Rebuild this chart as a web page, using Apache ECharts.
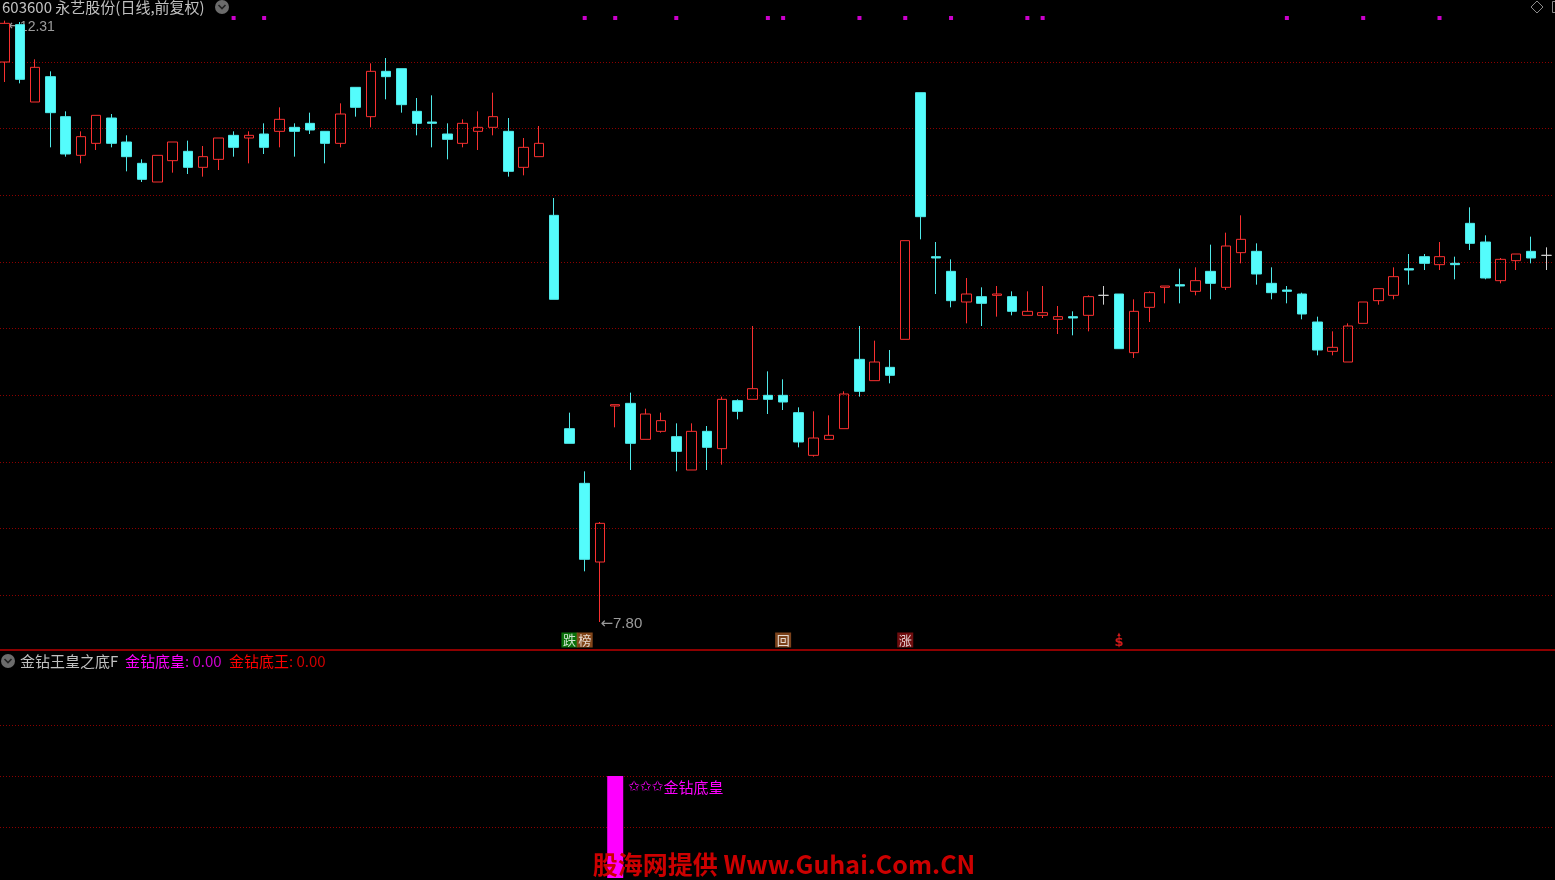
<!DOCTYPE html>
<html><head><meta charset="utf-8">
<script src="https://cdn.jsdelivr.net/npm/echarts@6/dist/echarts.min.js"></script>
<style>html,body{margin:0;padding:0;background:#000;overflow:hidden}#c{width:1555px;height:880px}</style>
</head><body><div id="c"></div>
<script>
// ---- data ----
const opens = [12.00,12.28,11.70,11.89,11.59,11.30,11.39,11.58,11.40,11.24,
11.10,11.26,11.33,11.21,11.27,11.45,11.43,11.46,11.48,11.51,
11.54,11.48,11.39,11.81,11.59,11.93,11.95,11.63,11.55,11.46,
11.39,11.48,11.51,11.48,11.21,11.29,10.85,9.25,8.84,8.25,
9.42,9.44,9.17,9.23,9.19,8.94,9.23,9.10,9.46,9.47,
9.50,9.50,9.37,9.05,9.17,9.25,9.77,9.61,9.71,9.92,
11.77,10.54,10.43,10.20,10.24,10.25,10.24,10.10,10.10,10.07,
10.09,10.10,10.25,10.26,9.82,10.16,10.31,10.33,10.28,10.43,
10.31,10.57,10.58,10.34,10.29,10.26,10.05,9.83,9.75,10.04,
10.21,10.25,10.45,10.54,10.48,10.49,10.79,10.65,10.36,10.51,
10.58,10.55];
const closes = [12.29,11.87,11.96,11.62,11.31,11.44,11.60,11.39,11.29,11.12,
11.30,11.40,11.21,11.29,11.43,11.36,11.45,11.36,11.57,11.48,
11.49,11.39,11.61,11.66,11.93,11.89,11.68,11.54,11.54,11.42,
11.54,11.51,11.59,11.18,11.36,11.39,10.22,9.14,8.27,8.54,
9.43,9.14,9.36,9.31,9.08,9.23,9.11,9.47,9.38,9.55,
9.47,9.45,9.15,9.18,9.20,9.51,9.53,9.75,9.65,10.66,
10.84,10.53,10.21,10.26,10.19,10.26,10.13,10.13,10.12,10.09,
10.08,10.24,10.25,9.85,10.13,10.27,10.32,10.32,10.36,10.34,
10.62,10.67,10.41,10.27,10.28,10.11,9.84,9.86,10.02,10.20,
10.30,10.39,10.44,10.49,10.54,10.48,10.64,10.38,10.52,10.56,
10.53,10.55];
const lows = [11.85,11.84,11.70,11.36,11.29,11.24,11.34,11.36,11.18,11.10,
11.10,11.17,11.16,11.14,11.19,11.29,11.24,11.31,11.36,11.29,
11.46,11.24,11.36,11.59,11.51,11.72,11.62,11.45,11.36,11.27,
11.36,11.34,11.45,11.14,11.15,11.29,10.22,9.14,8.18,7.80,
9.26,8.94,9.17,9.22,8.93,8.94,8.94,8.98,9.32,9.47,
9.36,9.39,9.11,9.04,9.17,9.25,9.49,9.61,9.59,9.92,
10.67,10.26,10.16,10.04,10.02,10.09,10.10,10.10,10.08,9.96,
9.95,9.98,10.18,9.85,9.78,10.05,10.19,10.19,10.25,10.22,
10.29,10.49,10.33,10.22,10.19,10.07,9.80,9.80,9.75,10.04,
10.18,10.22,10.33,10.44,10.44,10.37,10.59,10.37,10.34,10.44,
10.49,10.44];
const highs = [12.31,12.30,12.02,11.93,11.63,11.48,11.60,11.61,11.45,11.27,
11.30,11.40,11.41,11.37,11.43,11.48,11.48,11.54,11.66,11.54,
11.62,11.48,11.69,11.81,11.99,12.03,11.95,11.73,11.75,11.54,
11.57,11.63,11.77,11.58,11.43,11.52,10.98,9.37,8.93,8.55,
9.43,9.52,9.40,9.37,9.29,9.29,9.27,9.49,9.47,10.02,
9.68,9.62,9.41,9.38,9.35,9.53,10.02,9.91,9.84,10.66,
11.77,10.65,10.52,10.38,10.31,10.32,10.28,10.28,10.32,10.17,
10.13,10.25,10.32,10.26,10.22,10.28,10.32,10.45,10.46,10.63,
10.72,10.85,10.64,10.46,10.32,10.27,10.09,9.98,10.04,10.20,
10.30,10.46,10.56,10.56,10.65,10.54,10.91,10.70,10.53,10.56,
10.69,10.61];
const categories = opens.map((_, i) => 'D' + (i + 1));
const flagIdx = [15,17,38,40,44,50,51,56,59,62,67,68,84,89,94];
const signals = [
  {idx:37, text:'跌', bg:'#0c8c0c'},
  {idx:38, text:'榜', bg:'#a1561f'},
  {idx:51, text:'回', bg:'#9a5222'},
  {idx:59, text:'涨', bg:'#8c1012'}
];
const dollarIdx = [73];
const lowMark = {idx:39, value:7.80, text:'7.80'};
const highMark = {idx:0, value:12.31, text:'12.31'};
const priceGrid = [8.0,8.5,9.0,9.5,10.0,10.5,11.0,11.5,12.0];
const subGrid = [1,2,3];
const diamondBottom = [{idx:40, value:2}];

// ---- layout constants ----
const FLAG_PRICE = 12.33, SIGNAL_PRICE = 7.665;
const CJK = '"Noto Sans CJK SC", "Liberation Sans", sans-serif';
const dotted = {color:'#8c0000', type:[1,2], width:1};
const arrowRich = {
  a:{fontFamily:'"DejaVu Sans", sans-serif', fontSize:15, color:'#c0c0c0'},
  b:{fontFamily:'"Liberation Sans", sans-serif', fontSize:15, color:'#c0c0c0'}
};

const chart = echarts.init(document.getElementById('c'), null, {renderer:'canvas'});
const kdata = opens.map((o, i) => [o, closes[i], lows[i], highs[i]]);

chart.setOption({
  backgroundColor:'#000',
  animation:false,
  grid:[
    {left:-3, right:1, top:0, height:648, outerBoundsMode:'none', containLabel:false},
    {left:-3, right:1, top:650, height:230, outerBoundsMode:'none', containLabel:false}
  ],
  xAxis:[
    {type:'category', data:categories, gridIndex:0, boundaryGap:true, show:false},
    {type:'category', data:categories, gridIndex:1, boundaryGap:true, show:false}
  ],
  yAxis:[
    {type:'value', gridIndex:0, min:7.605, max:12.465, show:false, splitLine:{show:false}},
    {type:'value', gridIndex:1, min:-0.04, max:4.47, show:false, splitLine:{show:false}}
  ],
  series:[
    {
      type:'scatter', xAxisIndex:0, yAxisIndex:0, z:1, silent:true,
      symbolSize:1, itemStyle:{color:'rgba(0,0,0,0)'},
      data:[[highMark.idx, highMark.value]],
      label:{show:true, position:'right', distance:3, offset:[0,6],
        formatter:'{a|←}{b|' + highMark.text + '}', rich:{
          a:{fontFamily:'"DejaVu Sans", sans-serif', fontSize:14, color:'#c0c0c0'},
          b:{fontFamily:'"Liberation Sans", sans-serif', fontSize:14, color:'#c0c0c0'}}}
    },
    {
      type:'candlestick', xAxisIndex:0, yAxisIndex:0, z:3,
      data:kdata, barWidth:10,
      itemStyle:{color:'rgba(0,0,0,0)', color0:'#54fcfc', borderColor:'#f83030', borderColor0:'#4fe8e8',
        borderColorDoji:'#d0d0d0', borderWidth:1},
      markLine:{silent:true, symbol:'none', label:{show:false}, lineStyle:dotted, z:0,
        data:priceGrid.map(v => ({yAxis:v}))}
    },
    {
      type:'scatter', xAxisIndex:0, yAxisIndex:0, z:4, silent:true,
      symbol:'rect', symbolSize:[4,4], itemStyle:{color:'#ff00ff'},
      data:flagIdx.map(i => [i, FLAG_PRICE])
    },
    {
      type:'scatter', xAxisIndex:0, yAxisIndex:0, z:4, silent:true,
      symbolSize:1, itemStyle:{color:'rgba(0,0,0,0)'},
      data:[[lowMark.idx, lowMark.value]],
      label:{show:true, position:'right', distance:0, offset:[0,2],
        formatter:'{a|←}{b|' + lowMark.text + '}', rich:arrowRich}
    },
    {
      type:'scatter', xAxisIndex:0, yAxisIndex:0, z:4, silent:true,
      symbol:'rect', symbolSize:[16,15],
      data:signals.map(s => ({value:[s.idx, SIGNAL_PRICE], itemStyle:{color:s.bg},
        label:{formatter:s.text}})),
      label:{show:true, position:'inside', color:'#ffffff', fontSize:13, fontFamily:CJK}
    },
    {
      type:'scatter', xAxisIndex:0, yAxisIndex:0, z:4, silent:true,
      symbolSize:1, itemStyle:{color:'rgba(0,0,0,0)'},
      data:dollarIdx.map(i => [i, SIGNAL_PRICE]),
      label:{show:true, position:'inside', formatter:'{t|▲}\n{s|$}',
        rich:{t:{fontSize:6, color:'#ff2020', lineHeight:5, align:'center'},
              s:{fontSize:13, color:'#ff2020', fontWeight:'bold', lineHeight:12, align:'center', fontFamily:'"DejaVu Sans", sans-serif'}}}
    },
    {
      type:'bar', xAxisIndex:1, yAxisIndex:1, z:3, barWidth:16,
      itemStyle:{color:'#ff00ff'},
      data:diamondBottom.map(d => [d.idx, d.value]),
      label:{show:true, position:[21,4], align:'left', verticalAlign:'top',
        formatter:'{s|✩✩✩}{t|金钻底皇}', rich:{
          s:{color:'#ff00ff', fontSize:14, fontFamily:'"DejaVu Sans", sans-serif'},
          t:{color:'#ff00ff', fontSize:15, fontFamily:CJK}}},
      markLine:{silent:true, symbol:'none', label:{show:false}, lineStyle:dotted, z:0,
        data:subGrid.map(v => ({yAxis:v}))}
    }
  ],
  graphic:[
    {type:'text', x:2, y:7, z:10, style:{text:'603600 永艺股份(日线,前复权)', fill:'#c0c0c0',
      font:'15px ' + CJK, verticalAlign:'middle'}},
    {type:'circle', shape:{cx:222, cy:7, r:7}, z:10, style:{fill:'#6c6c6c'}},
    {type:'polyline', shape:{points:[[218.5,5],[222,8.5],[225.5,5]]}, z:11, style:{stroke:'#222', lineWidth:1.6, fill:null}},
    {type:'polygon', shape:{points:[[1537,1],[1543,7],[1537,13],[1531,7]]}, z:10, style:{stroke:'#8a8a8a', fill:null, lineWidth:1}},
    {type:'rect', shape:{x:1552.5, y:1.5, width:8, height:11}, z:10, style:{stroke:'#8a8a8a', fill:null, lineWidth:1}},
    {type:'rect', shape:{x:0, y:649, width:1555, height:2}, z:10, style:{fill:'#8e0000'}},
    {type:'circle', shape:{cx:8, cy:661, r:7}, z:10, style:{fill:'#6c6c6c'}},
    {type:'polyline', shape:{points:[[4.5,659],[8,662.5],[11.5,659]]}, z:11, style:{stroke:'#222', lineWidth:1.6, fill:null}},
    {type:'text', x:20, y:661, z:10, style:{text:'金钻王皇之底F', fill:'#c0c0c0', font:'15px ' + CJK, verticalAlign:'middle'}},
    {type:'text', x:125, y:661, z:10, style:{text:'金钻底皇', fill:'#ff00ff', font:'15px ' + CJK, verticalAlign:'middle'}},
    {type:'text', x:185, y:661, z:10, style:{text:': 0.00', fill:'#d000d0', font:'15px ' + CJK, verticalAlign:'middle'}},
    {type:'text', x:229, y:661, z:10, style:{text:'金钻底王', fill:'#ff0000', font:'15px ' + CJK, verticalAlign:'middle'}},
    {type:'text', x:289, y:661, z:10, style:{text:': 0.00', fill:'#d00000', font:'15px ' + CJK, verticalAlign:'middle'}},
    {type:'text', x:784, y:864, z:20, style:{text:'股海网提供 Www.Guhai.Com.CN', fill:'#cc0000',
      font:'bold 25px ' + CJK, align:'center', verticalAlign:'middle'}}
  ]
});
</script></body></html>
